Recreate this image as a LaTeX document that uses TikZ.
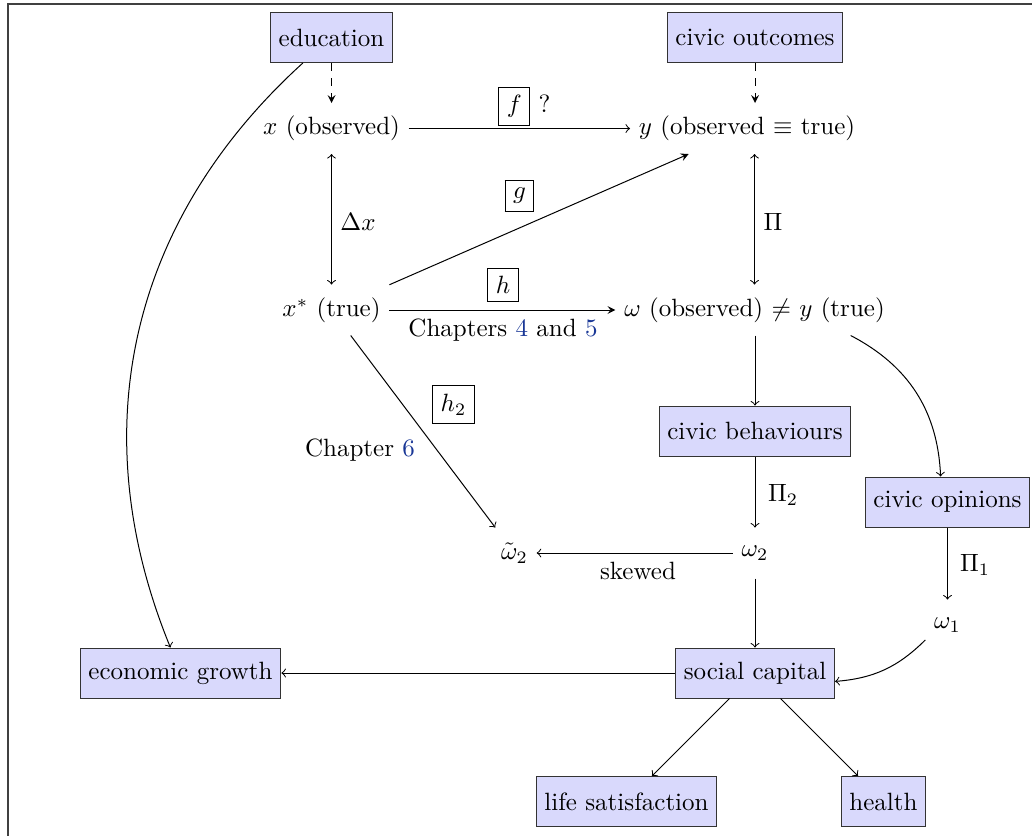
\documentclass[tikz,border=0pt]{standalone}
\usetikzlibrary{calc}
\definecolor{chapblue}{RGB}{25,55,150}
\definecolor{boxfill}{RGB}{217,217,252}
\begin{document}
\begin{tikzpicture}[x=0.4pt,y=0.4pt,
  nd/.style={minimum height=2em},
  box/.style={nd,draw=black!80,fill=boxfill},
  dasharrow/.style={dashed,-stealth},
  solidarrow/.style={-stealth},
]
\useasboundingbox (0,0) rectangle (1032,-835);
\draw[black!75,line width=0.8pt] (8.3,-845) -- (8.3,-3.7) -- (1045,-3.7);

% nodes
\node[box] (edu) at (331.5,-37.5) {education};
\node[box] (civout) at (755,-37.5) {civic outcomes};
\node[nd] (xobs) at (331.5,-128.5) {$x$ (observed)};
\node[nd] (yobs) at (747,-128.5) {$y$ (observed $\equiv$ true)};
\node[nd] (xstar) at (331.5,-310) {$x^{*}$ (true)};
\node[nd] (omega) at (754.5,-310) {$\omega$ (observed) $\neq$ $y$ (true)};
\node[box] (cb) at (755,-431) {civic behaviours};
\node[box] (co) at (947.5,-502) {civic opinions};
\node[nd] (w2) at (755,-553) {$\omega_2$};
\node[nd] (wt) at (514.5,-553) {$\tilde{\omega}_2$};
\node[nd] (w1) at (947.5,-625) {$\omega_1$};
\node[box] (econ) at (180.5,-673) {economic growth};
\node[box] (sc) at (755,-673) {social capital};
\node[box] (life) at (626.5,-801.5) {life satisfaction};
\node[box] (health) at (883.5,-801.5) {health};

% labels
\node (flbl) at (524.5,-106.7) {\fbox{$f$} ?};
\node (glbl) at (519.5,-196) {\fbox{$g$}};
\node (hlbl) at (503,-285) {\fbox{$h$}};
\node (h2lbl) at (453.5,-404.5) {\fbox{$h_2$}};
\node (ch45) at (503,-330) {Chapters \textcolor{chapblue}{4} and \textcolor{chapblue}{5}};
\node (ch6) at (360,-450) {Chapter \textcolor{chapblue}{6}};
\node (dx) at (358,-222) {$\Delta x$};
\node (pi) at (773,-222) {$\Pi$};
\node (pi2) at (783,-495) {$\Pi_2$};
\node (pi1) at (975,-565) {$\Pi_1$};
\node (skew) at (638,-571) {skewed};

% connectors
\draw[dasharrow] (edu) -- (xobs);
\draw[dasharrow] (civout) -- (civout |- yobs.north);
\draw[->] (xobs) -- (yobs);
\draw[<->] (xobs) -- (xstar);
\draw[<->] (yobs.south -| omega.north) -- (omega.north);
\draw[solidarrow] (xstar) -- (yobs);
\draw[solidarrow] (xstar) -- (omega);
\draw[->] (xstar) -- (wt);
\draw[->] (omega.south -| cb.north) -- (cb);
\draw[->] (omega) to[bend left] (co);
\draw[->] (cb) -- (w2);
\draw[->] (co) -- (w1);
\draw[->] (w2) -- (wt);
\draw[->] (w2) -- (sc);
\draw[->] (w1) to[bend left=20] (sc);
\draw[->] (sc) -- (econ);
\draw[->] (sc) -- (life);
\draw[->] (sc) -- (health);
\draw[->] (edu) to[bend right=35] (econ);
\end{tikzpicture}
\end{document}
